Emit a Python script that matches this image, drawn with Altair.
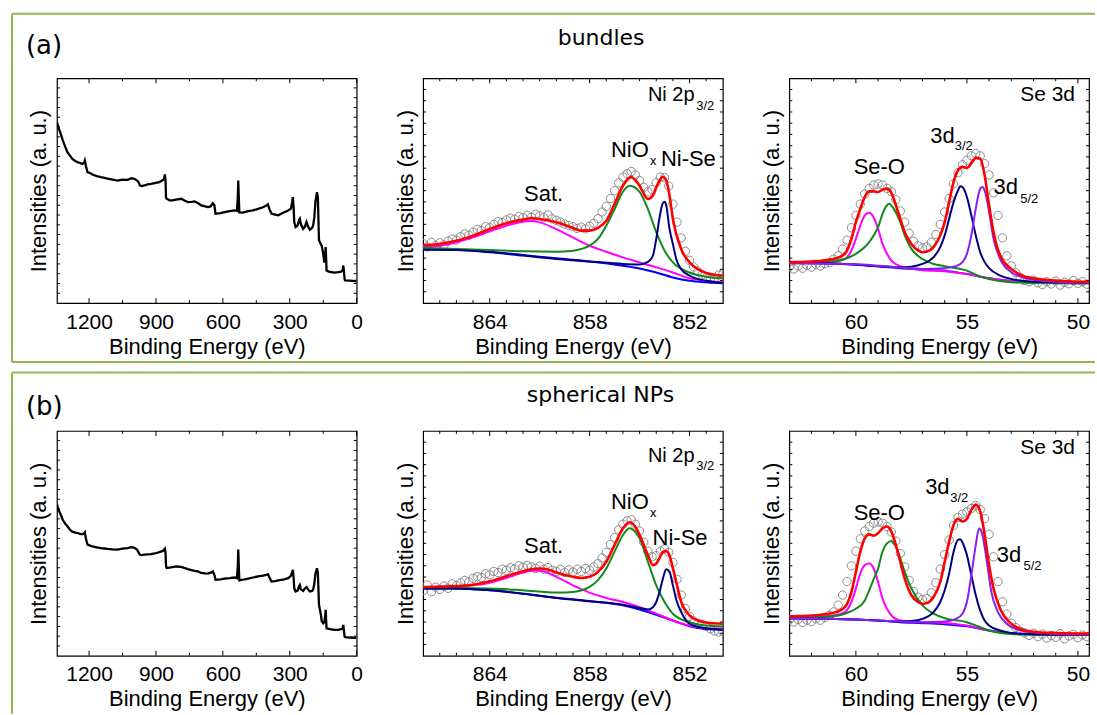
import altair as alt
import pandas as pd

FONT = "Liberation Sans"
TFONT = "DejaVu Sans"
W, H = 300, 225
BOX = "#92b550"

# ---------------- survey spectra ----------------
SURV_E = [1344, 1335, 1327, 1318, 1312, 1305, 1297, 1285, 1275, 1262, 1252, 1240, 1230, 1222, 1219, 1214,
          1207, 1195, 1185, 1165, 1147, 1130, 1117, 1095, 1072, 1050, 1027, 1010, 997, 985, 978, 972, 965,
          952, 937, 922, 900, 885, 872, 865, 860, 857, 855, 852, 840, 832, 810, 787, 770, 757, 740, 727,
          712, 697, 680, 667, 655, 645, 638, 633, 610, 592, 570, 547, 537, 533, 531, 529, 526, 510, 487,
          465, 442, 420, 405, 398, 392, 382, 365, 352, 330, 307, 295, 290, 286, 283, 280, 274, 265, 258,
          255, 250, 240, 232, 225, 218, 210, 200, 195, 190, 185, 178, 174, 171, 169, 160, 157, 150, 145,
          141, 139, 137, 135, 125, 120, 100, 82, 70, 63, 60, 57, 54, 52, 30, 10, 0]
SURV_A = [80.4, 77.5, 75.3, 72.5, 70.8, 69.0, 67.1, 65.5, 64.1, 63.2, 62.7, 62.3, 61.9, 62.5, 63.4, 61.0,
          58.2, 57.8, 57.2, 56.5, 56.0, 55.7, 55.3, 54.9, 54.5, 54.9, 54.8, 55.5, 55.3, 54.5, 53.8, 52.3, 52.0,
          52.3, 52.8, 53.0, 53.5, 53.8, 54.5, 55.0, 57.2, 54.0, 47.0, 46.4, 45.8, 45.6, 46.0, 46.4, 45.5, 44.9, 45.0, 45.2,
          44.5, 43.4, 43.0, 42.7, 43.0, 44.4, 43.5, 39.7, 40.0, 40.4, 40.9, 41.2, 41.0, 47.0, 54.5, 48.0, 40.3, 40.2, 40.9,
          41.2, 41.9, 42.6, 43.4, 43.9, 42.0, 39.7, 39.3, 39.0, 40.2, 41.2, 42.0, 44.5, 47.1, 43.0, 36.0, 33.8, 34.5, 37.0,
          37.5, 35.0, 33.0, 34.0, 36.0, 34.0, 32.6, 33.5, 34.5, 38.0, 45.0, 49.3, 47.0, 35.0, 27.9, 26.0, 25.6, 22.0, 18.0,
          21.0, 24.9, 20.0, 14.5, 14.0, 13.9, 13.5, 13.8, 14.0, 14.5, 16.7, 14.0, 10.5, 10.1, 10.0, 9.8, 9.8]
SURV_B = [67.3, 64.5, 62.8, 60.5, 59.5, 58.5, 57.6, 56.0, 55.2, 54.8, 54.6, 54.2, 54.0, 54.5, 54.9, 52.0,
          49.4, 49.0, 48.6, 48.2, 47.9, 47.7, 47.5, 47.3, 47.2, 47.6, 47.9, 48.3, 48.0, 47.2, 46.0, 44.9, 44.8,
          45.0, 45.1, 45.2, 45.6, 46.1, 46.5, 47.0, 47.6, 45.5, 40.0, 39.0, 39.2, 39.3, 39.7, 39.5, 39.0, 38.5, 38.1, 37.8,
          37.5, 36.8, 36.6, 36.5, 36.9, 37.5, 36.0, 33.8, 34.0, 34.3, 34.5, 34.8, 34.5, 40.0, 47.2, 41.0, 33.5, 33.8, 34.3,
          34.8, 35.3, 35.6, 36.0, 36.3, 35.0, 33.0, 33.2, 33.5, 33.8, 34.5, 35.5, 37.0, 38.2, 35.0, 30.0, 28.6, 29.0, 31.0,
          31.5, 29.5, 28.8, 30.0, 30.5, 29.5, 28.6, 28.8, 29.5, 32.0, 36.5, 38.9, 37.0, 28.0, 22.6, 18.0, 15.5, 14.4, 15.0,
          18.0, 20.4, 16.0, 12.2, 12.0, 11.8, 11.5, 11.5, 11.8, 12.0, 13.7, 11.0, 8.5, 8.3, 8.1, 8.0, 8.0]

# ---------------- Ni 2p raw data ----------------
NI_RAW_E = [round(868 - 0.25 * i, 2) for i in range(73)]
NI_A_RAW = [26.5, 25.0, 27.0, 25.5, 26.8, 25.8, 27.5, 28.5, 28.0, 29.5,
            30.8, 30.2, 31.5, 32.8, 32.2, 34.0, 33.5, 35.0, 36.2, 35.8,
            37.0, 37.8, 37.2, 38.5, 38.0, 39.0, 38.2, 39.5, 38.8, 38.0,
            39.2, 37.5, 36.8, 36.0, 35.2, 34.5, 34.0, 33.2, 33.8, 33.0,
            34.2, 35.5, 37.5, 40.5, 43.0, 46.5, 50.0, 53.5, 56.0, 57.5,
            58.5, 57.0, 54.5, 51.5, 49.5, 50.5, 53.5, 56.0, 55.8, 52.0,
            44.0, 36.0, 29.0, 23.0, 19.0, 16.0, 14.2, 12.5, 11.2, 10.5,
            11.0, 12.5, 13.0]
NI_B_RAW = [29.0, 31.5, 28.5, 30.5, 29.5, 31.0, 30.0, 32.0, 31.2, 32.5,
            33.5, 32.8, 34.5, 35.2, 34.8, 36.5, 36.0, 37.5, 37.0, 38.5,
            38.0, 39.2, 38.6, 40.0, 39.4, 40.2, 39.5, 38.8, 39.8, 38.5,
            39.2, 38.0, 37.5, 38.4, 37.0, 38.2, 37.2, 38.5, 37.5, 38.8,
            38.0, 39.5, 41.0, 43.5, 46.0, 49.5, 52.5, 56.0, 58.5, 60.0,
            60.5, 58.5, 55.5, 50.5, 46.5, 44.0, 44.5, 46.5, 47.5, 46.0,
            41.5, 34.0, 27.0, 21.0, 17.5, 15.5, 14.5, 13.8, 13.0, 12.0,
            11.0, 10.5, 10.8]

# ---------------- Ni 2p fit curves (a) ----------------
NA_RED_E = [868, 867, 866, 865, 864, 863, 862, 861.5, 861, 860, 859, 858.5, 858, 857.5, 857, 856.5, 856, 855.5,
            855, 854.5, 854.2, 854, 853.8, 853.6, 853.4, 853.2, 853, 852.5, 852, 851.5, 851, 850]
NA_RED_Y = [25.8, 26.3, 27.7, 30.0, 32.9, 35.5, 37.1, 37.7, 37.4, 35.9, 33.4, 32.2, 32.2, 33.4, 36.6, 44.1, 52.2, 56.0,
            52.2, 46.3, 47.8, 51.5, 54.5, 56.2, 54.5, 47.8, 37.4, 24.0, 18.1, 15.1, 13.4, 12.2]
NA_GRN_E = [868, 866, 864, 862, 860, 859, 858, 857.5, 857, 856.5, 856, 855.6, 855, 854.5, 854, 853.5, 853, 852, 851, 850]
NA_GRN_Y = [24.6, 24.0, 23.6, 23.0, 22.8, 23.3, 25.5, 28.5, 34.4, 41.8, 49.5, 52.2, 49.5, 41.8, 31.5, 23.3, 18.1, 13.6, 11.7, 11.0]
NA_NAV_E = [868, 866, 864, 862, 860, 858, 856, 855, 854.5, 854.2, 854, 853.8, 853.6, 853.5, 853.4, 853.2, 853,
            852.8, 852.5, 852, 851, 850]
NA_NAV_Y = [23.7, 23.6, 22.6, 21.1, 19.6, 18.5, 17.4, 17.2, 18.3, 21.1, 28.5, 38.1, 44.5, 45.1, 43.5, 32.9, 26.3,
            19.6, 15.1, 12.2, 9.9, 8.9]
NA_MAG_E = [868, 867, 866, 865, 864, 863, 862, 861.5, 861, 860, 859, 858, 857, 856, 855, 854, 853, 852, 851, 850]
NA_MAG_Y = [25.2, 25.5, 27.0, 29.2, 31.9, 34.4, 36.2, 36.5, 35.9, 32.9, 29.2, 25.5, 22.8, 20.3, 18.1, 15.9, 13.6, 11.0, 9.9, 9.2]
NA_BLU_E = [868, 866, 864, 862, 860, 858, 856, 855, 854, 853, 852, 851, 850]
NA_BLU_Y = [24.0, 23.7, 22.8, 21.4, 19.9, 18.5, 16.6, 15.4, 13.6, 11.4, 9.9, 9.2, 8.8]

# ---------------- Ni 2p fit curves (b) ----------------
NB_RED_E = [868, 866, 865, 864, 863, 862, 861.5, 861, 860.5, 860, 859, 858.5, 858, 857.5, 857, 856.5, 856, 855.6,
            855.2, 855, 854.5, 854.2, 854, 853.8, 853.6, 853.4, 853.2, 853, 852.8, 852.5, 852, 851.5, 851, 850]
NB_RED_Y = [30.6, 31.0, 31.6, 33.1, 35.4, 37.6, 38.5, 38.8, 38.4, 37.0, 35.1, 34.6, 35.1, 37.3, 41.8, 49.3, 56.7, 59.4,
            56.7, 53.7, 44.8, 40.3, 41.0, 43.5, 46.2, 46.6, 44.5, 39.0, 32.8, 23.9, 17.9, 15.7, 14.8, 14.2]
NB_GRN_E = [868, 866, 864, 862, 860, 859, 858, 857.5, 857, 856.5, 856, 855.6, 855.2, 855, 854.5, 854, 853.5, 853, 852, 851, 850]
NB_GRN_Y = [30.1, 30.1, 29.9, 29.1, 28.1, 28.4, 30.6, 33.6, 38.8, 46.3, 53.7, 56.7, 54.5, 52.2, 41.8, 31.3, 23.9, 18.7, 14.9, 13.4, 13.0]
NB_NAV_E = [868, 866, 864, 862, 860, 858, 856, 855, 854.5, 854.2, 854, 853.8, 853.6, 853.4, 853.2, 853, 852.8, 852.5,
            852, 851, 850]
NB_NAV_Y = [29.9, 29.9, 29.1, 27.6, 25.7, 24.2, 22.7, 21.2, 20.6, 21.6, 23.9, 28.4, 34.3, 38.5, 37.3, 31.3, 25.0, 19.4,
            14.2, 12.2, 11.6]
NB_MAG_E = [868, 866, 865, 864, 863, 862, 861.5, 861, 860, 859, 858, 857, 856, 855, 854, 853, 852, 851, 850]
NB_MAG_Y = [30.3, 30.7, 31.3, 32.5, 34.6, 37.0, 37.8, 37.8, 35.1, 31.3, 28.1, 25.7, 23.9, 21.6, 18.7, 15.7, 13.4, 12.2, 11.9]
NB_BLU_E = [868, 866, 864, 862, 860, 858, 856, 855, 854, 853, 852, 851, 850]
NB_BLU_Y = [29.9, 29.9, 29.1, 27.6, 25.8, 24.3, 22.4, 20.6, 18.2, 15.7, 13.1, 11.9, 11.6]

# ---------------- Se 3d raw data ----------------
SE_RAW_E = [round(63 - 0.2 * i, 1) for i in range(68)]
SE_A_RAW = [16.0, 15.2, 16.5, 15.5, 16.8, 16.0, 17.2, 16.5, 17.5, 18.0,
            19.5, 21.0, 24.0, 28.0, 33.5, 39.0, 44.0, 48.5, 51.0, 52.5,
            53.0, 52.5, 51.0, 49.5, 46.0, 41.0, 36.0, 31.0, 27.5, 25.5,
            24.5, 25.0, 27.0, 30.5, 35.0, 40.5, 46.5, 53.0, 58.0, 61.5,
            63.5, 65.5, 66.5, 65.5, 62.0, 57.0, 49.0, 39.0, 29.0, 21.0,
            16.5, 13.5, 11.5, 10.0, 9.5, 10.2, 9.0, 8.2, 9.5, 8.5,
            9.8, 8.0, 9.2, 8.6, 10.0, 8.8, 9.5, 8.4]
SE_B_RAW = [16.0, 15.0, 16.2, 14.8, 15.8, 15.2, 16.5, 15.8, 17.0, 18.0,
            19.5, 22.5, 27.0, 33.0, 40.0, 46.5, 52.0, 55.5, 57.5, 59.0,
            59.5, 59.0, 57.5, 55.0, 51.0, 45.5, 39.5, 33.5, 28.5, 26.0,
            25.0, 25.5, 28.0, 32.5, 38.5, 45.0, 51.5, 58.0, 61.5, 63.0,
            64.0, 65.5, 66.8, 65.0, 61.0, 54.0, 44.0, 33.0, 24.0, 18.5,
            14.5, 12.5, 11.0, 10.2, 9.0, 10.0, 8.5, 9.6, 7.8, 9.0,
            8.2, 9.8, 7.5, 8.8, 9.5, 8.0, 9.2, 8.5]

# ---------------- Se 3d fit curves (a) ----------------
SA_RED_E = [63, 62, 61, 60.5, 60.2, 60, 59.8, 59.6, 59.4, 59.2, 59, 58.8, 58.6, 58.4, 58.2, 58, 57.8, 57.5, 57.2, 57,
            56.8, 56.5, 56.2, 56, 55.8, 55.6, 55.4, 55.2, 55, 54.8, 54.6, 54.4, 54.2, 54, 53.8, 53.5, 53, 52.5, 52, 51, 50, 49.5]
SA_RED_Y = [18.2, 18.5, 19.6, 21.9, 28.6, 36.0, 41.9, 47.2, 49.7, 49.7, 49.4, 50.4, 50.9, 49.0, 43.5, 37.5, 31.5, 26.3, 23.4, 22.6,
            22.9, 24.9, 30.1, 36.0, 44.9, 53.9, 59.1, 60.6, 60.1, 62.1, 64.6, 64.3, 56.8, 43.5, 31.5, 21.1, 15.2, 12.2, 11.0, 10.0, 9.5, 9.5]
SA_MAG_E = [63, 61, 60.5, 60.2, 60, 59.8, 59.6, 59.4, 59.2, 59, 58.8, 58.6, 58.4, 58, 57.5, 57, 56, 55, 54, 53, 52, 50, 49.5]
SA_MAG_Y = [17.9, 18.5, 19.6, 23.4, 28.6, 34.5, 39.0, 40.2, 38.2, 33.0, 26.3, 21.9, 18.9, 16.4, 15.2, 14.6, 14.1, 12.9, 11.0, 9.8, 9.2, 8.9, 8.9]
SA_GRN_E = [63, 61, 60.5, 60, 59.6, 59.4, 59.2, 59, 58.8, 58.6, 58.5, 58.3, 58, 57.8, 57.5, 57, 56.5, 56, 55, 54.5, 54, 53, 52, 50, 49.5]
SA_GRN_Y = [17.7, 18.5, 19.6, 21.9, 24.9, 27.1, 30.0, 33.8, 39.7, 43.5, 44.2, 42.0, 36.0, 30.1, 24.1, 19.6, 17.4, 16.4, 14.4, 12.2, 10.7, 9.2, 8.9, 8.8, 8.8]
SA_NAV_E = [63, 61, 60, 59, 58, 57.5, 57, 56.5, 56.2, 56, 55.8, 55.6, 55.4, 55.3, 55.2, 55, 54.8, 54.6, 54.4, 54.2, 54,
            53.5, 53, 52, 50, 49.5]
SA_NAV_Y = [17.9, 17.6, 17.1, 16.4, 15.9, 16.2, 17.4, 20.4, 24.9, 30.1, 37.5, 44.9, 50.1, 52.0, 51.6, 47.2, 39.0, 30.1, 22.6, 18.2, 15.5,
            12.2, 10.7, 9.5, 9.1, 9.1]
SA_PUR_E = [63, 60, 58, 57, 56, 55.5, 55.2, 55, 54.8, 54.6, 54.4, 54.3, 54.2, 54, 53.8, 53.5, 53, 52.5, 52, 51, 50, 49.5]
SA_PUR_Y = [17.7, 17.3, 15.8, 15.2, 15.5, 16.4, 18.2, 21.9, 30.1, 42.0, 50.9, 51.6, 50.1, 40.5, 28.6, 19.6, 13.7, 11.5, 10.4, 9.5, 9.1, 9.1]
SA_BLU_E = [63, 61, 60, 59, 58, 57, 56, 55, 54, 53, 52, 50, 49.5]
SA_BLU_Y = [17.9, 17.6, 17.0, 16.4, 15.5, 14.9, 14.4, 12.9, 11.0, 9.8, 9.2, 8.8, 8.8]

# ---------------- Se 3d fit curves (b) ----------------
SB_RED_E = SA_RED_E
SB_RED_Y = [17.5, 17.9, 19.1, 21.6, 28.4, 37.3, 46.3, 52.2, 54.0, 53.4, 54.5, 56.7, 57.5, 55.2, 49.3, 41.8, 34.3, 26.9, 23.9, 23.1,
            23.4, 26.1, 32.8, 41.8, 50.7, 58.2, 60.9, 59.7, 60.9, 64.9, 67.2, 64.2, 53.7, 40.3, 29.9, 20.9, 14.2, 11.6, 10.7, 10.1, 9.9, 9.9]
SB_MAG_E = [63, 61, 60.5, 60.2, 60, 59.8, 59.6, 59.4, 59.2, 59, 58.8, 58.6, 58.4, 58, 57, 56, 55, 54, 53, 52, 50, 49.5]
SB_MAG_Y = [17.0, 17.9, 19.4, 23.9, 29.9, 36.6, 40.3, 41.0, 38.8, 32.8, 25.4, 20.9, 17.9, 15.7, 14.9, 14.6, 13.4, 11.2, 10.0, 9.6, 9.4, 9.4]
SB_GRN_E = [63, 61, 60.5, 60, 59.6, 59.4, 59.2, 59, 58.8, 58.6, 58.4, 58.2, 58, 57.8, 57.5, 57, 56.5, 56, 55, 54.5, 54, 53, 52, 50, 49.5]
SB_GRN_Y = [16.9, 17.6, 18.7, 20.9, 24.6, 29.1, 34.0, 38.8, 46.3, 50.0, 51.0, 48.5, 43.3, 37.3, 29.9, 22.4, 18.7, 16.7, 14.9, 13.1, 11.2, 9.7, 9.4, 9.3, 9.3]
SB_NAV_E = [63, 61, 60, 59, 58, 57.5, 57, 56.5, 56.2, 56, 55.8, 55.6, 55.4, 55.3, 55.2, 55, 54.8, 54.6, 54.4, 54.2, 54,
            53.5, 53, 52, 50, 49.5]
SB_NAV_Y = [16.7, 16.4, 16.1, 15.7, 15.2, 15.4, 16.4, 19.4, 23.9, 29.1, 36.6, 46.3, 51.5, 51.8, 50.4, 44.8, 35.8, 26.9, 20.1, 15.7, 13.4,
            11.2, 10.1, 9.6, 9.3, 9.3]
SB_PUR_E = [63, 60, 58, 57, 56, 55.5, 55.2, 55, 54.8, 54.6, 54.45, 54.3, 54.1, 53.9, 53.6, 53.2, 52.8, 52, 51, 50, 49.5]
SB_PUR_Y = [16.7, 16.1, 15.2, 14.9, 15.2, 16.4, 18.7, 23.9, 35.8, 49.3, 56.7, 53.7, 41.8, 28.4, 19.4, 14.2, 11.9, 10.4, 9.7, 9.4, 9.4]
SB_BLU_E = [63, 61, 60, 59, 58, 57, 56, 55, 54, 53, 52, 50, 49.5]
SB_BLU_Y = [16.7, 16.4, 16.1, 15.7, 14.9, 14.5, 14.0, 13.1, 11.2, 9.9, 9.4, 9.3, 9.3]

# ---------------- axes / labels ----------------
SURV_DOM = [0, 1344]
NI_DOM = [850, 868]
SE_DOM = [49.5, 63]
SURV_MAJOR = [1200, 900, 600, 300, 0]
SURV_MINOR = [1050, 750, 450, 150]
NI_MAJOR = [864, 858, 852]
NI_MINOR = [867, 866, 865, 863, 862, 861, 860, 859, 857, 856, 855, 854, 853, 851]
SE_MAJOR = [60, 55, 50]
SE_MINOR = [62, 61, 59, 58, 57, 56, 54, 53, 52, 51]
SURV_YT = [round(4.35 * k, 2) for k in range(1, 23)]
XPS_YT = [5 * k for k in range(1, 20)]

NA_LAB = (["Sat.", "NiO", "Ni-Se"], [861.94, 856.72, 853.72], [45.3, 64.9, 60.9])
NA_SUB = (["x", "3/2"], [854.38, 851.6], [61.6, 85.8])
NA_CORE = (["Ni 2p"], [854.5], [89.8])
NB_LAB = (["Sat.", "NiO", "Ni-Se"], [861.94, 856.72, 854.22], [45.5, 65.2, 49.2])
NB_SUB = (["x", "3/2"], [854.38, 851.6], [61.8, 82.5])
NB_CORE = (["Ni 2p"], [854.5], [86.2])
SA_LAB = (["Se-O", "3d", "3d"], [60.1, 56.65, 53.8], [57.2, 71.3, 48.3])
SA_SUB = (["3/2", "5/2"], [55.55, 52.6], [67.9, 44.6])
SA_CORE = (["Se 3d"], [52.6], [90.1])
SB_LAB = (["Se-O", "3d", "3d"], [60.1, 56.88, 53.65], [60.3, 72.1, 41.8])
SB_SUB = (["3/2", "5/2"], [55.75, 52.45], [68.4, 38.1])
SB_CORE = (["Se 3d"], [52.6], [89.9])

YS = alt.Scale(domain=[0, 100], nice=False, zero=False)
ONE = pd.DataFrame({"k": [0]})


def xscale(dom):
    return alt.Scale(domain=dom, reverse=True, nice=False, zero=False)


def xaxis(vals):
    return alt.Axis(values=vals, format="d", labelFlush=False, ticks=False,
                    domain=False, grid=False, labelFont=FONT, labelFontSize=21, labelColor="black",
                    labelPadding=8, title="Binding Energy (eV)", titleFont=FONT, titleFontSize=22,
                    titleFontWeight="normal", titleColor="black", titlePadding=4)


def yaxis():
    return alt.Axis(labels=False, ticks=False, domain=False, grid=False, title="Intensities (a. u.)",
                    titleFont=FONT, titleFontSize=22, titleFontWeight="normal", titleColor="black",
                    titlePadding=6)


def X(dom, axis=None):
    # layers without an explicit axis inherit the explicit axis of the main layer
    if axis is None:
        return alt.X("E:Q", scale=xscale(dom))
    return alt.X("E:Q", scale=xscale(dom), axis=axis)


def Y(axis=None):
    if axis is None:
        return alt.Y("v:Q", scale=YS)
    return alt.Y("v:Q", scale=YS, axis=axis)


def tick_layers(dom, major, minor, yvals):
    dM = pd.DataFrame({"E": major})
    dm = pd.DataFrame({"E": minor})
    dy = pd.DataFrame({"v": yvals})
    r = dict(color="black", strokeWidth=1)
    return [
        alt.Chart(dM).mark_rule(**r).encode(x=X(dom), y=alt.value(H), y2=alt.value(H - 5)),
        alt.Chart(dM).mark_rule(**r).encode(x=X(dom), y=alt.value(0), y2=alt.value(5)),
        alt.Chart(dm).mark_rule(**r).encode(x=X(dom), y=alt.value(H), y2=alt.value(H - 3)),
        alt.Chart(dm).mark_rule(**r).encode(x=X(dom), y=alt.value(0), y2=alt.value(3)),
        alt.Chart(dy).mark_rule(**r).encode(y=Y(), x=alt.value(0), x2=alt.value(3)),
        alt.Chart(dy).mark_rule(**r).encode(y=Y(), x=alt.value(W), x2=alt.value(W - 3)),
    ]


def curve(dom, E, v, color, sw=2.0, interp="monotone", axes=None):
    df = pd.DataFrame({"E": E, "v": v})
    xa = xaxis(axes) if axes is not None else None
    ya = yaxis() if axes is not None else None
    return alt.Chart(df).mark_line(color=color, strokeWidth=sw, interpolate=interp, clip=True).encode(
        x=X(dom, xa), y=Y(ya), order=alt.Order("E:Q", sort="descending"))


def raw(dom, E, v, axes):
    df = pd.DataFrame({"E": E, "v": v})
    return alt.Chart(df).mark_point(shape="circle", filled=False, size=70, color="#8c8c8c",
                                    strokeWidth=1, opacity=1, clip=True).encode(
        x=X(dom, xaxis(axes)), y=Y(yaxis()))


def labels(dom, spec, size):
    t, E, v = spec
    df = pd.DataFrame({"E": E, "v": v, "t": t})
    return alt.Chart(df).mark_text(align="left", baseline="alphabetic", font=FONT, fontSize=size,
                                   color="black").encode(x=X(dom), y=Y(), text="t:N")


def deco_rule(**enc):
    return alt.Chart(ONE).mark_rule(color=BOX, strokeWidth=2).encode(**enc)


def deco_text(text, x, y, size, align="left"):
    return alt.Chart(ONE).mark_text(text=text, align=align, baseline="alphabetic", font=TFONT,
                                    fontSize=size, color="black").encode(x=alt.value(x), y=alt.value(y))


def survey_panel(vals, deco):
    layers = [curve(SURV_DOM, SURV_E, vals, "black", 2.3, "linear", axes=SURV_MAJOR)]
    layers += tick_layers(SURV_DOM, SURV_MAJOR, SURV_MINOR, SURV_YT)
    layers += deco
    return alt.layer(*layers).properties(width=W, height=H)


def ni_panel(rawv, red, grn, nav, mag, blu, lab, sub, core):
    d = NI_DOM
    layers = [raw(d, NI_RAW_E, rawv, NI_MAJOR)]
    layers += tick_layers(d, NI_MAJOR, NI_MINOR, XPS_YT)
    layers += [
        curve(d, blu[0], blu[1], "#0000ff"),
        curve(d, mag[0], mag[1], "#ff00ff"),
        curve(d, grn[0], grn[1], "#12891a"),
        curve(d, nav[0], nav[1], "#000080"),
        curve(d, red[0], red[1], "#ff0000", 2.6),
        labels(d, lab, 22), labels(d, sub, 13), labels(d, core, 20),
    ]
    return alt.layer(*layers).properties(width=W, height=H)


def se_panel(rawv, red, mag, grn, nav, pur, blu, lab, sub, core):
    d = SE_DOM
    layers = [raw(d, SE_RAW_E, rawv, SE_MAJOR)]
    layers += tick_layers(d, SE_MAJOR, SE_MINOR, XPS_YT)
    layers += [
        curve(d, blu[0], blu[1], "#0000ff"),
        curve(d, mag[0], mag[1], "#ff00ff"),
        curve(d, grn[0], grn[1], "#12891a"),
        curve(d, nav[0], nav[1], "#000080"),
        curve(d, pur[0], pur[1], "#8a1ef0"),
        curve(d, red[0], red[1], "#ff0000", 2.6),
        labels(d, lab, 22), labels(d, sub, 13), labels(d, core, 21),
    ]
    return alt.layer(*layers).properties(width=W, height=H)


deco_a = [
    deco_rule(x=alt.value(-45), y=alt.value(-64.5), y2=alt.value(284)),
    deco_rule(x=alt.value(-45), x2=alt.value(1039), y=alt.value(-64.5)),
    deco_rule(x=alt.value(-45), x2=alt.value(1039), y=alt.value(284)),
    deco_text("(a)", -31, -24, 26),
    deco_text("bundles", 544.7, -33.7, 22, "center"),
]
deco_b = [
    deco_rule(x=alt.value(-45), y=alt.value(-58.5), y2=alt.value(283)),
    deco_rule(x=alt.value(-45), x2=alt.value(1039), y=alt.value(-58.5)),
    deco_text("(b)", -31, -16.4, 26),
    deco_text("spherical NPs", 544, -29, 22, "center"),
]

pA1 = survey_panel(SURV_A, deco_a)
pA2 = ni_panel(NI_A_RAW, (NA_RED_E, NA_RED_Y), (NA_GRN_E, NA_GRN_Y), (NA_NAV_E, NA_NAV_Y),
               (NA_MAG_E, NA_MAG_Y), (NA_BLU_E, NA_BLU_Y), NA_LAB, NA_SUB, NA_CORE)
pA3 = se_panel(SE_A_RAW, (SA_RED_E, SA_RED_Y), (SA_MAG_E, SA_MAG_Y), (SA_GRN_E, SA_GRN_Y),
               (SA_NAV_E, SA_NAV_Y), (SA_PUR_E, SA_PUR_Y), (SA_BLU_E, SA_BLU_Y), SA_LAB, SA_SUB, SA_CORE)
pB1 = survey_panel(SURV_B, deco_b)
pB2 = ni_panel(NI_B_RAW, (NB_RED_E, NB_RED_Y), (NB_GRN_E, NB_GRN_Y), (NB_NAV_E, NB_NAV_Y),
               (NB_MAG_E, NB_MAG_Y), (NB_BLU_E, NB_BLU_Y), NB_LAB, NB_SUB, NB_CORE)
pB3 = se_panel(SE_B_RAW, (SB_RED_E, SB_RED_Y), (SB_MAG_E, SB_MAG_Y), (SB_GRN_E, SB_GRN_Y),
               (SB_NAV_E, SB_NAV_Y), (SB_PUR_E, SB_PUR_Y), (SB_BLU_E, SB_BLU_Y), SB_LAB, SB_SUB, SB_CORE)

chart = alt.concat(pA1, pA2, pA3, pB1, pB2, pB3, columns=3,
                   spacing={"row": 128, "column": 66.5}, bounds="flush").resolve_scale(
    x="independent", y="independent").properties(
    padding={"left": 10, "top": 11, "right": 0, "bottom": 0}, background="white").configure_view(
    stroke="black", strokeWidth=1.2)

chart.save("out.html", embed_options={"renderer": "svg", "actions": False})
